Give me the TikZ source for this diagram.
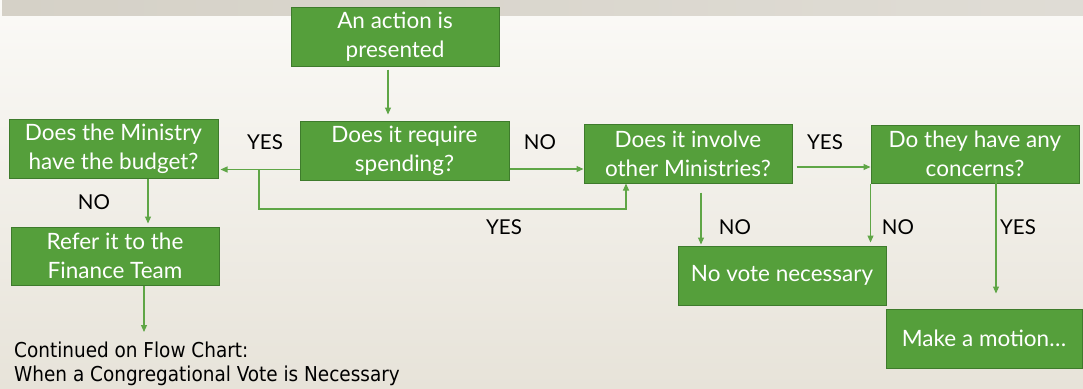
\documentclass[tikz,border=0pt]{standalone}
\usepackage{fontspec}
\setmainfont{Lato}
\newfontfamily\notefont{DejaVu Sans Condensed}
\usetikzlibrary{arrows.meta}
\definecolor{boxgreen}{HTML}{559F3B}
\definecolor{boxedge}{HTML}{3E7B2C}
\definecolor{linkgreen}{HTML}{5FA646}
\definecolor{bandgray}{HTML}{D5D1C7}
\definecolor{paperlight}{HTML}{FBFAF7}
\definecolor{paperdark}{HTML}{E7E3D9}
\tikzset{
  greenbox/.style={draw=boxedge, line width=1pt, fill=boxgreen, text=white, align=center, inner sep=0pt, font=\fontsize{22.5}{29}\selectfont},
  answer/.style={font=\fontsize{20.5}{24}\selectfont, text=black, inner sep=0pt},
  link/.style={draw=linkgreen, line width=1.1pt, -{Triangle[length=7pt,width=6pt]}}
}
\begin{document}
\begin{tikzpicture}[x=1pt,y=-1pt]
\clip (0,0) rectangle (1083,388);
\shade[top color=paperlight, bottom color=paperdark] (0,0) rectangle (1083,388);
\shade[left color=bandgray, right color=bandgray!75!white] (2,0) rectangle (1083,15);
% boxes
\node[greenbox, minimum width=208, minimum height=59] (action) at (395,36.5) {An action is\\presented};
\node[greenbox, minimum width=209, minimum height=59] (ministry) at (113.5,148.5) {Does the Ministry\\have the budget?};
\node[greenbox, minimum width=209, minimum height=59] (spending) at (404.5,150.5) {Does it require\\spending?};
\node[greenbox, minimum width=208, minimum height=59] (involve) at (688,153.5) {Does it involve\\other Ministries?};
\node[greenbox, minimum width=208, minimum height=58] (concerns) at (975,154) {Do they have any\\concerns?};
\node[greenbox, minimum width=208, minimum height=58] (refer) at (115,256) {Refer it to the\\Finance Team};
\node[greenbox, minimum width=208, minimum height=59] (novote) at (782,275.5) {No vote necessary};
\node[greenbox, minimum width=196, minimum height=59] (motion) at (984,338.5) {Make a motion…};
\node[anchor=north west, align=left, inner sep=0pt, font=\notefont\fontsize{20.5}{24}\selectfont] (note) at (14,342) {Continued on Flow Chart:\\When a Congregational Vote is Necessary};
% answers
\node[answer] (yesspend) at (265,142) {YES};
\node[answer] (nospend) at (540,142) {NO};
\node[answer] (yesinvolve) at (825,142) {YES};
\node[answer] (nobudget) at (94,202) {NO};
\node[answer] (yesloop) at (504,227) {YES};
\node[answer] (noinvolve) at (735,227) {NO};
\node[answer] (noconcern) at (898,227) {NO};
\node[answer] (yesconcern) at (1018,227) {YES};
% connectors
\coordinate (fork) at (259,169.5);
\coordinate (loop) at (259,209);
\draw[link, shorten <=3pt, shorten >=6pt] ([xshift=-7pt]action.south) -- ([xshift=-7pt]action.south |- spending.north);
\draw[link, shorten >=2pt] ([yshift=-19pt]spending.west) -- ([yshift=-19pt]spending.west -| ministry.east);
\draw[link] (fork) -- (loop) -| ([xshift=-62pt]involve.south);
\draw[link] ([yshift=-18.5pt]spending.east) -- ([yshift=-18.5pt]spending.east -| involve.west);
\draw[link, shorten <=4pt] ([yshift=-13.5pt]involve.east) -- ([yshift=-13.5pt]involve.east -| concerns.west);
\draw[link, shorten <=9pt, shorten >=1pt] ([xshift=13pt]involve.south) -- ([xshift=13pt]involve.south |- novote.north);
\draw[link, shorten >=3pt] (concerns.south west) -- (concerns.south west |- novote.north);
\draw[link, shorten >=15pt] ([xshift=21pt,yshift=5pt]concerns.south) -- ([xshift=21pt]concerns.south |- motion.north);
\draw[link, shorten >=3pt] ([xshift=34.5pt]ministry.south) -- ([xshift=34.5pt]ministry.south |- refer.north);
\draw[link, shorten >=10pt] ([xshift=29pt]refer.south) -- ([xshift=29pt]refer.south |- note.north);
\end{tikzpicture}
\end{document}
